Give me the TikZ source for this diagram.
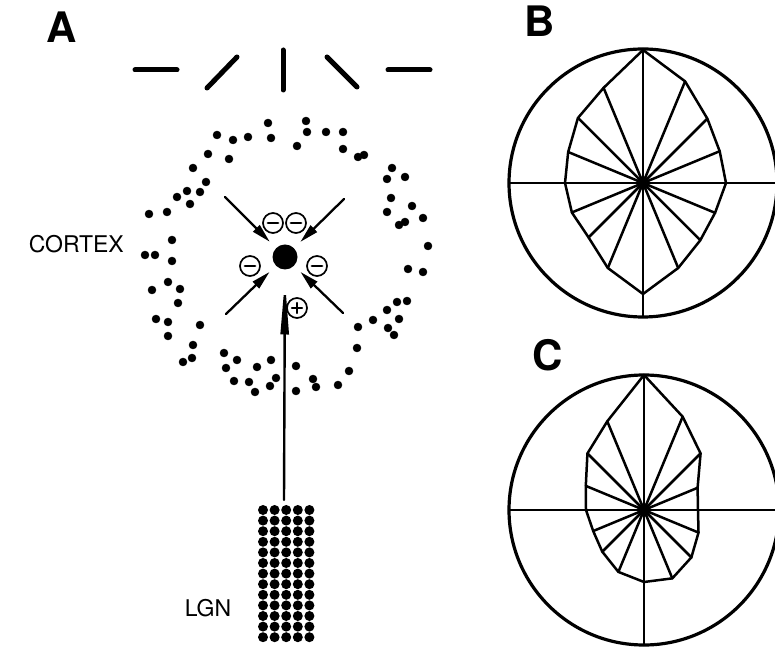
\documentclass[tikz,border=0pt]{standalone}
\usepackage{fontspec}
\setmainfont{TeX Gyre Heros}
\usetikzlibrary{arrows.meta}
\tikzset{
  panellab/.style={font=\fontsize{42}{42}\selectfont\bfseries,inner sep=0pt},
  arealab/.style={font=\fontsize{23}{23}\selectfont,inner sep=0pt},
  bodycell/.style={circle,fill=black,inner sep=0pt,minimum size=25pt,outer sep=9pt},
  synring/.style={circle,draw,line width=1.7pt,inner sep=0pt,minimum size=20pt,fill=white},
  inhsyn/.style={synring,path picture={\draw[line width=2.8pt] ([xshift=-5pt]path picture bounding box.center) -- ([xshift=5pt]path picture bounding box.center);}},
  excsyn/.style={synring,path picture={\draw[line width=2.4pt] ([xshift=-5pt]path picture bounding box.center) -- ([xshift=5pt]path picture bounding box.center) ([yshift=-5pt]path picture bounding box.center) -- ([yshift=5pt]path picture bounding box.center);}},
  inharrow/.style={line width=2.3pt,-{Triangle[length=19pt,width=9pt]}},
  excarrow/.style={line width=2.4pt,-{Triangle[length=56pt,width=8pt]}},
  polar/.style={line width=2.5pt,line join=round},
  bar/.style={line width=5pt,line cap=round}
}
\begin{document}
\begin{tikzpicture}[line cap=round,line join=round,x=1pt,y=1pt]
\clip (0,0) rectangle (775,647);
% panel labels
\node[panellab] (labA) at (62,620) {A};
\node[panellab] (labB) at (540,626) {B};
\node[panellab] (labC) at (548,292) {C};
% stimulus orientations
\draw [bar] (135,577) -- (177,577);
\draw [bar] (207,559) -- (237,590);
\draw [bar] (283,557) -- (283,597);
\draw [bar] (327,590) -- (357,560);
\draw [bar] (388,577) -- (430,577);
% cortical cells round the cell
\begin{scriptsize}
\draw [fill=black] (268,524) circle (4pt);
\draw [fill=black] (306,526) circle (4pt);
\draw [fill=black] (307,515) circle (4pt);
\draw [fill=black] (326,515) circle (4pt);
\draw [fill=black] (343,515) circle (4pt);
\draw [fill=black] (217,512) circle (4pt);
\draw [fill=black] (233,507) circle (4pt);
\draw [fill=black] (248,510) circle (4pt);
\draw [fill=black] (271,509) circle (4pt);
\draw [fill=black] (297,501) circle (4pt);
\draw [fill=black] (343,498) circle (4pt);
\draw [fill=black] (358,490) circle (4pt);
\draw [fill=black] (364,492) circle (4pt);
\draw [fill=black] (208,493) circle (4pt);
\draw [fill=black] (229,488) circle (4pt);
\draw [fill=black] (193,479) circle (4pt);
\draw [fill=black] (392,479) circle (4pt);
\draw [fill=black] (387,468) circle (4pt);
\draw [fill=black] (405,470) circle (4pt);
\draw [fill=black] (206,465) circle (4pt);
\draw [fill=black] (187,456) circle (4pt);
\draw [fill=black] (200,455) circle (4pt);
\draw [fill=black] (177,450) circle (4pt);
\draw [fill=black] (190,443) circle (4pt);
\draw [fill=black] (391,449) circle (4pt);
\draw [fill=black] (412,441) circle (4pt);
\draw [fill=black] (387,435) circle (4pt);
\draw [fill=black] (149,433) circle (4pt);
\draw [fill=black] (167,435) circle (4pt);
\draw [fill=black] (423,429) circle (4pt);
\draw [fill=black] (399,422) circle (4pt);
\draw [fill=black] (405,425) circle (4pt);
\draw [fill=black] (172,407) circle (4pt);
\draw [fill=black] (428,401) circle (4pt);
\draw [fill=black] (145,392) circle (4pt);
\draw [fill=black] (155,392) circle (4pt);
\draw [fill=black] (172,386) circle (4pt);
\draw [fill=black] (408,378) circle (4pt);
\draw [fill=black] (423,375) circle (4pt);
\draw [fill=black] (168,365) circle (4pt);
\draw [fill=black] (152,357) circle (4pt);
\draw [fill=black] (180,358) circle (4pt);
\draw [fill=black] (178,344) circle (4pt);
\draw [fill=black] (407,346) circle (4pt);
\draw [fill=black] (397,345) circle (4pt);
\draw [fill=black] (387,337) circle (4pt);
\draw [fill=black] (156,328) circle (4pt);
\draw [fill=black] (168,325) circle (4pt);
\draw [fill=black] (200,322) circle (4pt);
\draw [fill=black] (373,327) circle (4pt);
\draw [fill=black] (399,328) circle (4pt);
\draw [fill=black] (358,320) circle (4pt);
\draw [fill=black] (388,319) circle (4pt);
\draw [fill=black] (394,312) circle (4pt);
\draw [fill=black] (168,311) circle (4pt);
\draw [fill=black] (193,302) circle (4pt);
\draw [fill=black] (357,299) circle (4pt);
\draw [fill=black] (224,294) circle (4pt);
\draw [fill=black] (192,289) circle (4pt);
\draw [fill=black] (183,285) circle (4pt);
\draw [fill=black] (237,287) circle (4pt);
\draw [fill=black] (271,287) circle (4pt);
\draw [fill=black] (296,281) circle (4pt);
\draw [fill=black] (257,280) circle (4pt);
\draw [fill=black] (226,279) circle (4pt);
\draw [fill=black] (276,269) circle (4pt);
\draw [fill=black] (234,266) circle (4pt);
\draw [fill=black] (249,265) circle (4pt);
\draw [fill=black] (313,268) circle (4pt);
\draw [fill=black] (349,276) circle (4pt);
\draw [fill=black] (338,262) circle (4pt);
\draw [fill=black] (270,261) circle (4pt);
\draw [fill=black] (316,260) circle (4pt);
\draw [fill=black] (255,255) circle (4pt);
\draw [fill=black] (296,256) circle (4pt);
\end{scriptsize}
% LGN cells
\foreach \i in {0,...,4}
  \foreach \j in {0,...,12}
    \fill (263+11.6*\i,137-10.6*\j) circle (5pt);
\node[arealab,anchor=east] (cortex) at (124,403) {CORTEX};
\node[arealab] (lgn) at (208,39) {LGN};
% the cell and its inputs
\node[bodycell] (cell) at (285,390) {};
\coordinate (inUL) at (225,450);
\coordinate (inUR) at (344,448);
\coordinate (inLL) at (226,333);
\coordinate (inLR) at (343,334);
\coordinate (lgntop) at (284,147);
\draw [inharrow] (inUL) -- (cell);
\draw [inharrow] (inUR) -- (cell);
\draw [inharrow] (inLL) -- (cell);
\draw [inharrow] (inLR) -- (cell);
\draw [excarrow] (lgntop) -- (cell);
\node[inhsyn] (sinA) at (273,424) {};
\node[inhsyn] (sinB) at (296,424) {};
\node[inhsyn] (sinC) at (250,381) {};
\node[inhsyn] (sinD) at (317,381) {};
\node[excsyn] (sexc) at (297,339) {};
% B: broad tuning
\begin{scope}[shift={(643,464)}]
\draw [line width=3.2pt] (0,0) circle (134pt);
\draw [polar] (-134,0) -- (134,0) (0,-134) -- (0,134);
\draw [polar] (90:133) -- (67.5:110) -- (45:91) -- (22.5:83) -- (0:83) -- (-22.5:78) -- (-45:81) -- (-67.5:92) -- (-90:111) -- (-112.5:92) -- (-135:77) -- (-157.5:77) -- (180:78) -- (157.5:81) -- (135:92) -- (112.5:103) -- cycle;
\foreach \a/\r in {67.5/110,45/91,22.5/83,-22.5/78,-45/81,-67.5/92,-112.5/92,-135/77,-157.5/77,157.5/81,135/92,112.5/103}
  \draw [polar] (0,0) -- (\a:\r);
\fill (0,0) circle (6.5pt);
\end{scope}
% C: sharpened tuning
\begin{scope}[shift={(644,137)}]
\draw [line width=3.2pt] (0,0) circle (135pt);
\draw [polar] (-135,0) -- (135,0) (0,-135) -- (0,135);
\draw [polar] (90:135) -- (67.5:101) -- (45:80) -- (22.5:58) -- (0:54) -- (-22.5:59) -- (-45:67) -- (-67.5:74) -- (-90:72) -- (-112.5:67) -- (-135:59) -- (-157.5:55) -- (180:58) -- (157.5:63) -- (135:80) -- (112.5:96) -- cycle;
\foreach \a/\r in {67.5/101,45/80,22.5/58,-22.5/59,-45/67,-67.5/74,-112.5/67,-135/59,-157.5/55,157.5/63,135/80,112.5/96}
  \draw [polar] (0,0) -- (\a:\r);
\fill (0,0) circle (6.5pt);
\end{scope}
\end{tikzpicture}
\end{document}
